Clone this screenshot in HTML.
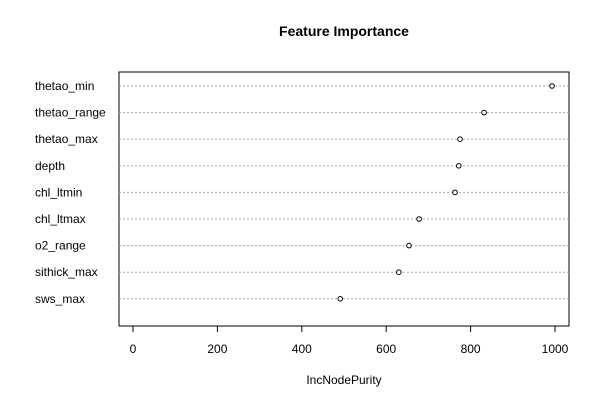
<!DOCTYPE html>
<html><head><meta charset="utf-8"><style>
html,body{margin:0;padding:0;background:#fff;}
svg{display:block;font-family:"Liberation Sans",Arial,sans-serif;}
</style></head><body>
<svg id="chart" width="600" height="400">
<rect x="0" y="0" width="600" height="400" fill="#fff"/>
<text x="344" y="36" text-anchor="middle" font-size="14" font-weight="bold">Feature Importance</text>
<rect x="119" y="72" width="450" height="254" fill="none" stroke="#000" stroke-width="1"/>
<g id="rows"></g>
<g id="xaxis"></g>
<text x="344" y="384" text-anchor="middle" font-size="12">IncNodePurity</text>
</svg>
<script>
const features = ["thetao_min","thetao_range","thetao_max","depth","chl_ltmin","chl_ltmax","o2_range","sithick_max","sws_max"];
const importance = [993, 832, 775, 772, 763, 678, 654, 630, 491];
const ticks = [0, 200, 400, 600, 800, 1000];
const NS = "http://www.w3.org/2000/svg";
function xs(v){ return 133 + v * 0.422; }
function ys(i){ return 86 + i * 26.6; }
const rows = document.getElementById('rows');
features.forEach((f, i) => {
  const y = ys(i);
  const ln = document.createElementNS(NS, 'line');
  ln.setAttribute('x1', 119); ln.setAttribute('x2', 569);
  ln.setAttribute('y1', y); ln.setAttribute('y2', y);
  ln.setAttribute('stroke', '#aaa'); ln.setAttribute('stroke-dasharray', '2,2');
  
  
  rows.appendChild(ln);
  const t = document.createElementNS(NS, 'text');
  t.setAttribute('x', 35); t.setAttribute('y', y + 4);
  t.setAttribute('font-size', '12');
  t.textContent = f;
  
  
  rows.appendChild(t);
  const c = document.createElementNS(NS, 'circle');
  c.setAttribute('cx', xs(importance[i])); c.setAttribute('cy', y);
  c.setAttribute('r', 2.3); c.setAttribute('fill', '#fff'); c.setAttribute('stroke', '#000');
  
  
  rows.appendChild(c);
});
const xa = document.getElementById('xaxis');
ticks.forEach(v => {
  const x = xs(v);
  const tk = document.createElementNS(NS, 'line');
  tk.setAttribute('x1', x); tk.setAttribute('x2', x);
  tk.setAttribute('y1', 326); tk.setAttribute('y2', 332);
  tk.setAttribute('stroke', '#000');
  
  
  xa.appendChild(tk);
  const t = document.createElementNS(NS, 'text');
  t.setAttribute('x', x); t.setAttribute('y', 353);
  t.setAttribute('text-anchor', 'middle'); t.setAttribute('font-size', '12');
  t.textContent = v;
  
  
  xa.appendChild(t);
});
</script>
</body></html>
